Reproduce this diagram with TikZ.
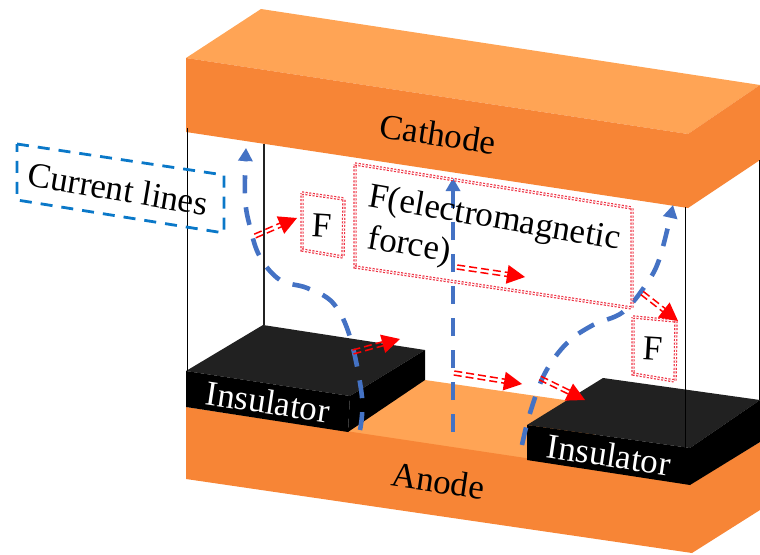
\documentclass[tikz,border=0pt]{standalone}
\usepackage{fontspec}
\setmainfont{Liberation Serif}
\usetikzlibrary{calc,arrows.meta}
\definecolor{orangedark}{HTML}{F78536}
\definecolor{orangelight}{HTML}{FFA455}
\definecolor{topblack}{HTML}{212121}
\definecolor{boxblue}{HTML}{0A78C8}
\definecolor{lineblue}{HTML}{4472C4}
\definecolor{dotred}{HTML}{EE3344}
\tikzset{
  front/.style={fill=orangedark},
  lighttop/.style={fill=orangelight},
  insfront/.style={fill=black},
  instop/.style={fill=topblack},
  wire/.style={draw=black,line width=1pt},
  current/.style={draw=lineblue,line width=4.6pt,dash pattern=on 18pt off 14pt,-{Triangle[length=13pt,width=14pt]}},
  dotbox/.style={draw=dotred,line width=1.2pt,double=white,double distance=1pt,dash pattern=on 2pt off 1.6pt},
  lbl/.style={font=\fontsize{35}{41}\selectfont,inner sep=0pt,rotate=-8.5},
  forceline/.style={draw=red,line width=1.5pt,dash pattern=on 8pt off 4pt},
  forcehead/.style={fill=red}
}
\newcommand{\forcearrow}[2]{%
  \draw[forceline] ($(#1)!2pt!90:(#2)$) -- ($($(#2)!14pt!(#1)$)!2pt!90:(#2)$);
  \draw[forceline] ($(#1)!2pt!-90:(#2)$) -- ($($(#2)!14pt!(#1)$)!2pt!-90:(#2)$);
  \fill[forcehead] (#2) -- ($($(#2)!18pt!(#1)$)!9.5pt!90:(#2)$) -- ($($(#2)!18pt!(#1)$)!9.5pt!-90:(#2)$) -- cycle;
}
\begin{document}
\begin{tikzpicture}[x=1pt,y=-1pt]
\useasboundingbox (0,0) rectangle (760,554);
\begin{scope}
\clip (0,0) rectangle (760,554);
% cathode
\fill[lighttop] (186,58) -- (261,9) -- (760,85) -- (688,134) -- cycle;
\fill[front] (186,58) -- (688,134) -- (688,208) -- (186,132) -- cycle;
\fill[front] (688,134) -- (760,85) -- (760,160) -- (688,208) -- cycle;
% anode
\fill[lighttop] (340,433) -- (425,380) -- (620,408) -- (560,470) -- cycle;
\fill[front] (186,407) -- (692,483) -- (692,553) -- (186,479) -- cycle;
\fill[front] (692,483) -- (760,442) -- (760,510) -- (692,553) -- cycle;
% left insulator
\fill[instop] (186,371) -- (263,325) -- (425,350) -- (350,396) -- cycle;
\fill[insfront] (186,371) -- (350,396) -- (348,432) -- (186,407) -- cycle;
\fill[insfront] (350,396) -- (425,350) -- (425,380) -- (348,432) -- cycle;
% right insulator
\fill[instop] (527,425) -- (603,378) -- (760,400) -- (690,448) -- cycle;
\fill[insfront] (527,425) -- (690,448) -- (690,485) -- (527,460) -- cycle;
\fill[insfront] (690,448) -- (760,400) -- (760,442) -- (690,485) -- cycle;
% wires
\coordinate (w1a) at (187,128); \coordinate (w1b) at (187,371);
\coordinate (w2a) at (264,144); \coordinate (w2b) at (264,325);
\coordinate (w3a) at (685,207); \coordinate (w3b) at (685,448);
\coordinate (w4a) at (759.5,160); \coordinate (w4b) at (759.5,400);
\draw[wire] (w1a) -- (w1b);
\draw[wire,line width=1.4pt,draw=topblack] (w2a) -- (w2b);
\draw[wire] (w3a) -- (w3b);
\draw[wire] (w4a) -- (w4b);
% current lines
\coordinate (c3a) at (453,432); \coordinate (c3b) at (453,178);
\draw[current] plot[smooth,tension=0.6] coordinates {(360,430) (362,397) (350,337) (333,303) (307,288) (280,280) (260,257) (250,227) (245,197) (246,148)};
\draw[current] (c3a) -- (c3b);
\draw[current] plot[smooth,tension=0.6] coordinates {(522,445) (530,413) (545,373) (567,343) (593,325) (623,312) (647,283) (660,257) (673,205)};
% boxes
\draw[dotbox] (302,193) -- (344,199) -- (343,257) -- (302,250) -- cycle;
\draw[dotbox] (355,164) -- (632,208) -- (632,308) -- (355,267) -- cycle;
\draw[dotbox] (633,317) -- (676,321) -- (675,381) -- (633,374) -- cycle;
\draw[draw=boxblue,line width=2.8pt,dash pattern=on 12pt off 9pt] (17,144) -- (224,175) -- (224,233) -- (17,200) -- cycle;
% force arrows
\coordinate (f1a) at (255,236); \coordinate (f1b) at (297,218);
\coordinate (f2a) at (353,352); \coordinate (f2b) at (400,339);
\coordinate (f3a) at (457,267); \coordinate (f3b) at (525,277);
\coordinate (f4a) at (454,373); \coordinate (f4b) at (522,384);
\coordinate (f5a) at (540,378); \coordinate (f5b) at (585,400);
\coordinate (f6a) at (642,293); \coordinate (f6b) at (678,321);
\forcearrow{f1a}{f1b}
\forcearrow{f2a}{f2b}
\forcearrow{f3a}{f3b}
\forcearrow{f4a}{f4b}
\forcearrow{f5a}{f5b}
\forcearrow{f6a}{f6b}
% labels
\node[lbl] (cathode) at (438,134) {Cathode};
\node[lbl] (anode) at (438,481) {Anode};
\node[lbl,text=white] (ins1) at (268,402) {Insulator};
\node[lbl,text=white] (ins2) at (609,455) {Insulator};
\node[lbl,rotate=-1] (current) at (118,189) {Current lines};
\node[lbl,rotate=5] (f1) at (322,226) {F};
\node[lbl,rotate=5] (f2) at (653,349) {F};
\node[lbl,align=left,rotate=-1.2] (emf) at (491,240) {F(electromagnetic\\\hspace*{6pt}force)};
\end{scope}
\end{tikzpicture}
\end{document}
